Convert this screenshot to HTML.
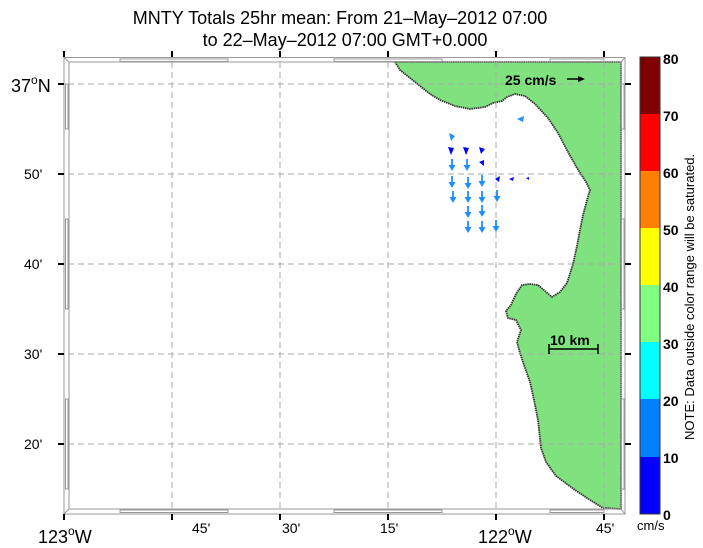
<!DOCTYPE html>
<html><head><meta charset="utf-8"><style>body{margin:0;background:#fff}svg{display:block}</style></head><body>
<svg width="703" height="548" xmlns="http://www.w3.org/2000/svg" font-family="Liberation Sans, sans-serif">
<rect width="703" height="548" fill="#fff"/>
<text x="340" y="24" font-size="18" text-anchor="middle">MNTY Totals 25hr mean: From 21–May–2012 07:00</text>
<text x="345" y="46" font-size="18" text-anchor="middle">to 22–May–2012 07:00 GMT+0.000</text>
<!-- land -->
<polygon fill="#80e27e" stroke="#333" stroke-width="1.8" stroke-dasharray="1.5 0.7" points="395,62 400,70 410,78 420,86 430,94 440,100 455,106 470,109 485,107 493,103 502,101 507,97 515,94 525,96 535,104 548,118 558,133 568,152 577,168 586,182 590,190 587,200 583,215 580,230 577,246 573,264 567,283 560,292 552,297 545,291 538,285 530,284 522,285 516,294 511,305 506,311 508,318 516,320 521,330 517,342 520,353 525,368 530,382 534,400 538,420 541,448 546,462 556,476 575,490 590,500 603,508 621,509 621,62"/>
<!-- grid -->
<g stroke="#aaa" stroke-width="1" stroke-dasharray="6 4" fill="none">
<line x1="172" y1="62" x2="172" y2="509"/><line x1="280" y1="62" x2="280" y2="509"/><line x1="388" y1="62" x2="388" y2="509"/><line x1="496" y1="62" x2="496" y2="509"/><line x1="604" y1="62" x2="604" y2="509"/>
<line x1="68" y1="84" x2="621" y2="84"/><line x1="68" y1="174" x2="621" y2="174"/><line x1="68" y1="264" x2="621" y2="264"/><line x1="68" y1="354" x2="621" y2="354"/><line x1="68" y1="444" x2="621" y2="444"/>
</g>
<!-- frame -->
<g stroke="#999" stroke-width="1" fill="none">
<rect x="64" y="57.5" width="561" height="456.5"/>
<rect x="69" y="62" width="552" height="447"/>
<line x1="64" y1="57.5" x2="69" y2="62"/><line x1="625" y1="57.5" x2="621" y2="62"/><line x1="64" y1="514" x2="69" y2="509"/><line x1="625" y1="514" x2="621" y2="509"/>
<rect x="120" y="59" width="108" height="2.5"/><rect x="334" y="59" width="108" height="2.5"/><rect x="550" y="59" width="54" height="2.5"/>
<rect x="120" y="510" width="108" height="2.5"/><rect x="334" y="510" width="108" height="2.5"/><rect x="550" y="510" width="54" height="2.5"/>
<rect x="65.5" y="84" width="2.5" height="45"/><rect x="65.5" y="219" width="2.5" height="90"/><rect x="65.5" y="399" width="2.5" height="90"/>
<rect x="621.5" y="84" width="2.5" height="45"/><rect x="621.5" y="219" width="2.5" height="90"/><rect x="621.5" y="399" width="2.5" height="90"/>
</g>
<g stroke="#000" stroke-width="2">
<line x1="64" y1="514" x2="64" y2="520"/><line x1="172" y1="514" x2="172" y2="520"/><line x1="280" y1="514" x2="280" y2="520"/><line x1="388" y1="514" x2="388" y2="520"/><line x1="496" y1="514" x2="496" y2="520"/><line x1="604" y1="514" x2="604" y2="520"/>
<line x1="64" y1="51" x2="64" y2="57"/><line x1="172" y1="51" x2="172" y2="57"/><line x1="280" y1="51" x2="280" y2="57"/><line x1="388" y1="51" x2="388" y2="57"/><line x1="496" y1="51" x2="496" y2="57"/><line x1="604" y1="51" x2="604" y2="57"/>
<line x1="58" y1="84" x2="64" y2="84"/><line x1="58" y1="174" x2="64" y2="174"/><line x1="58" y1="264" x2="64" y2="264"/><line x1="58" y1="354" x2="64" y2="354"/><line x1="58" y1="444" x2="64" y2="444"/>
<line x1="625" y1="84" x2="631" y2="84"/><line x1="625" y1="174" x2="631" y2="174"/><line x1="625" y1="264" x2="631" y2="264"/><line x1="625" y1="354" x2="631" y2="354"/><line x1="625" y1="444" x2="631" y2="444"/>
</g>
<!-- axis labels -->
<g font-size="14">
<text x="38" y="543" font-size="18">123<tspan font-size="12" dy="-8">o</tspan><tspan dy="8">W</tspan></text>
<text x="192" y="533">45'</text><text x="282" y="533">30'</text><text x="380" y="533">15'</text>
<text x="478" y="543" font-size="18">122<tspan font-size="12" dy="-8">o</tspan><tspan dy="8">W</tspan></text><text x="596" y="533">45'</text>
<text x="11" y="92" font-size="18">37<tspan font-size="12" dy="-8">o</tspan><tspan dy="8">N</tspan></text>
<text x="24" y="179">50'</text><text x="24" y="269">40'</text><text x="24" y="359">30'</text><text x="24" y="449">20'</text>
</g>
<!-- scale -->
<text x="505" y="85" font-size="14" font-weight="bold">25 cm/s</text>
<line x1="567" y1="79" x2="580" y2="79" stroke="#000" stroke-width="1.5"/><polygon points="585,79 578,76 578,82"/>
<text x="550" y="345" font-size="14" font-weight="bold">10 km</text>
<g stroke="#000" stroke-width="1.5"><line x1="549" y1="349" x2="598" y2="349"/><line x1="549" y1="344" x2="549" y2="354"/><line x1="598" y1="344" x2="598" y2="354"/></g>
<!-- vectors -->
<defs>
<g id="d"><line x1="0" y1="-6" x2="0" y2="2" stroke-width="1.8"/><polygon points="0,6 -3.5,0 3.5,0" stroke="none"/></g>
</defs>
<g fill="#1e8fff" stroke="#1e8fff">
<polygon points="517,119 524,116 523,122" stroke="none"/>
<polygon points="451,141 449,133 455,136" stroke="none"/>
<use href="#d" x="452" y="165"/><use href="#d" x="467" y="165"/>
<use href="#d" x="452" y="182"/><use href="#d" x="468" y="183"/><use href="#d" x="482" y="181"/>
<use href="#d" x="453" y="197"/><use href="#d" x="468" y="197"/><use href="#d" x="482" y="197"/><use href="#d" x="497" y="196"/>
<use href="#d" x="468" y="212"/><use href="#d" x="482" y="211"/>
<use href="#d" x="468" y="227"/><use href="#d" x="482" y="227"/><use href="#d" x="496" y="226"/>
</g>
<g fill="#0000ff">
<polygon points="451,155 448,147 454,148"/><polygon points="466,155 463,147 469,148"/><polygon points="481,154 479,147 485,149"/>
<polygon points="484,166 479,162 484,160"/>
<polygon points="495,179 500,176 499,182"/><polygon points="509,179 514,177 513,181"/><polygon points="526,178 529,177 529,180"/>
</g>
<!-- colorbar -->
<g stroke="none">
<rect x="640" y="57" width="20" height="57" fill="#800000"/>
<rect x="640" y="114" width="20" height="57" fill="#ff0000"/>
<rect x="640" y="171" width="20" height="57" fill="#ff8000"/>
<rect x="640" y="228" width="20" height="57" fill="#ffff00"/>
<rect x="640" y="285" width="20" height="57" fill="#80ff80"/>
<rect x="640" y="342" width="20" height="57" fill="#00ffff"/>
<rect x="640" y="399" width="20" height="58" fill="#0080ff"/>
<rect x="640" y="457" width="20" height="57" fill="#0000ff"/>
</g>
<rect x="640" y="57" width="20" height="457" fill="none" stroke="#333" stroke-width="1"/>
<g font-size="14" font-weight="bold">
<text x="663" y="64">80</text><text x="663" y="121">70</text><text x="663" y="178">60</text><text x="663" y="235">50</text><text x="663" y="292">40</text><text x="663" y="349">30</text><text x="663" y="406">20</text><text x="663" y="463">10</text><text x="663" y="520">0</text>
</g>
<text x="637" y="530" font-size="13">cm/s</text>
<text transform="translate(694,440) rotate(-90)" font-size="13">NOTE: Data outside color range will be saturated.</text>
</svg>
</body></html>
